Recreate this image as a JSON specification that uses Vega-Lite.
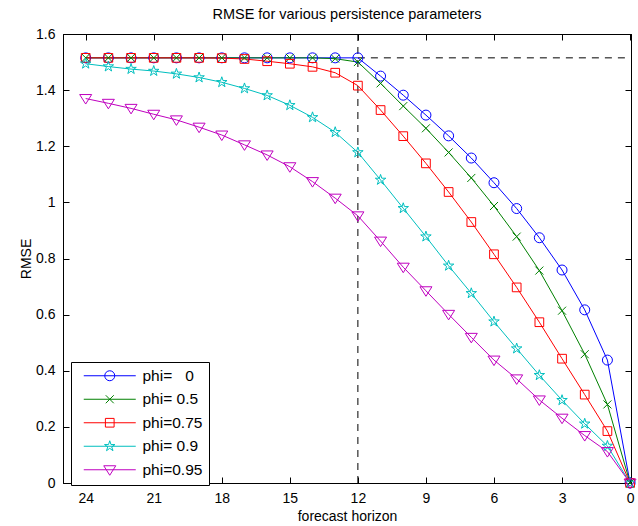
{
 "$schema": "https://vega.github.io/schema/vega-lite/v6.json",
 "width": 568, "height": 449,
 "autosize": {"type": "none"},
 "padding": {"left": 63, "top": 34, "right": 7, "bottom": 43},
 "background": "white",
 "title": {"text": "RMSE for various persistence parameters", "font": "Liberation Sans", "fontSize": 14.5, "fontWeight": "normal", "color": "black", "anchor": "middle", "offset": 5},
 "config": {
  "view": {"stroke": "black", "strokeWidth": 1},
  "axis": {"domainColor": "black", "domainWidth": 1, "tickColor": "black", "tickWidth": 1, "tickSize": -6, "labelFont": "Liberation Sans", "labelFontSize": 14, "labelColor": "black", "titleFont": "Liberation Sans", "titleFontSize": 14, "titleFontWeight": "normal", "titleColor": "black", "grid": false, "labelPadding": 14, "labelFlush": false, "labelOverlap": false},
  "legend": {"title": null, "orient": "none", "legendX": 8, "legendY": 328, "padding": 6, "strokeColor": "black", "fillColor": "white",
             "labelFont": "Liberation Sans", "labelFontSize": 15.5, "labelColor": "black", "symbolSize": 100, "symbolStrokeWidth": 1,
             "symbolOffset": 25, "labelOffset": 25, "rowPadding": 6.5}
 },
 "data": {"values": [
  {"h":24,"series":"phi=\u00a0\u00a0\u00a00","rmse":1.515},{"h":23,"series":"phi=\u00a0\u00a0\u00a00","rmse":1.515},{"h":22,"series":"phi=\u00a0\u00a0\u00a00","rmse":1.515},{"h":21,"series":"phi=\u00a0\u00a0\u00a00","rmse":1.515},{"h":20,"series":"phi=\u00a0\u00a0\u00a00","rmse":1.515},{"h":19,"series":"phi=\u00a0\u00a0\u00a00","rmse":1.515},{"h":18,"series":"phi=\u00a0\u00a0\u00a00","rmse":1.515},{"h":17,"series":"phi=\u00a0\u00a0\u00a00","rmse":1.515},{"h":16,"series":"phi=\u00a0\u00a0\u00a00","rmse":1.515},{"h":15,"series":"phi=\u00a0\u00a0\u00a00","rmse":1.515},{"h":14,"series":"phi=\u00a0\u00a0\u00a00","rmse":1.515},{"h":13,"series":"phi=\u00a0\u00a0\u00a00","rmse":1.515},{"h":12,"series":"phi=\u00a0\u00a0\u00a00","rmse":1.515},{"h":11,"series":"phi=\u00a0\u00a0\u00a00","rmse":1.450},{"h":10,"series":"phi=\u00a0\u00a0\u00a00","rmse":1.382},{"h":9,"series":"phi=\u00a0\u00a0\u00a00","rmse":1.311},{"h":8,"series":"phi=\u00a0\u00a0\u00a00","rmse":1.237},{"h":7,"series":"phi=\u00a0\u00a0\u00a00","rmse":1.158},{"h":6,"series":"phi=\u00a0\u00a0\u00a00","rmse":1.070},{"h":5,"series":"phi=\u00a0\u00a0\u00a00","rmse":0.978},{"h":4,"series":"phi=\u00a0\u00a0\u00a00","rmse":0.874},{"h":3,"series":"phi=\u00a0\u00a0\u00a00","rmse":0.759},{"h":2,"series":"phi=\u00a0\u00a0\u00a00","rmse":0.617},{"h":1,"series":"phi=\u00a0\u00a0\u00a00","rmse":0.438},{"h":0,"series":"phi=\u00a0\u00a0\u00a00","rmse":0},
  {"h":24,"series":"phi=\u00a00.5","rmse":1.515},{"h":23,"series":"phi=\u00a00.5","rmse":1.515},{"h":22,"series":"phi=\u00a00.5","rmse":1.515},{"h":21,"series":"phi=\u00a00.5","rmse":1.515},{"h":20,"series":"phi=\u00a00.5","rmse":1.515},{"h":19,"series":"phi=\u00a00.5","rmse":1.515},{"h":18,"series":"phi=\u00a00.5","rmse":1.515},{"h":17,"series":"phi=\u00a00.5","rmse":1.515},{"h":16,"series":"phi=\u00a00.5","rmse":1.515},{"h":15,"series":"phi=\u00a00.5","rmse":1.515},{"h":14,"series":"phi=\u00a00.5","rmse":1.515},{"h":13,"series":"phi=\u00a00.5","rmse":1.512},{"h":12,"series":"phi=\u00a00.5","rmse":1.500},{"h":11,"series":"phi=\u00a00.5","rmse":1.424},{"h":10,"series":"phi=\u00a00.5","rmse":1.343},{"h":9,"series":"phi=\u00a00.5","rmse":1.264},{"h":8,"series":"phi=\u00a00.5","rmse":1.178},{"h":7,"series":"phi=\u00a00.5","rmse":1.087},{"h":6,"series":"phi=\u00a00.5","rmse":0.987},{"h":5,"series":"phi=\u00a00.5","rmse":0.878},{"h":4,"series":"phi=\u00a00.5","rmse":0.757},{"h":3,"series":"phi=\u00a00.5","rmse":0.614},{"h":2,"series":"phi=\u00a00.5","rmse":0.459},{"h":1,"series":"phi=\u00a00.5","rmse":0.280},{"h":0,"series":"phi=\u00a00.5","rmse":0},
  {"h":24,"series":"phi=0.75","rmse":1.515},{"h":23,"series":"phi=0.75","rmse":1.515},{"h":22,"series":"phi=0.75","rmse":1.515},{"h":21,"series":"phi=0.75","rmse":1.515},{"h":20,"series":"phi=0.75","rmse":1.515},{"h":19,"series":"phi=0.75","rmse":1.515},{"h":18,"series":"phi=0.75","rmse":1.514},{"h":17,"series":"phi=0.75","rmse":1.511},{"h":16,"series":"phi=0.75","rmse":1.503},{"h":15,"series":"phi=0.75","rmse":1.494},{"h":14,"series":"phi=0.75","rmse":1.483},{"h":13,"series":"phi=0.75","rmse":1.462},{"h":12,"series":"phi=0.75","rmse":1.416},{"h":11,"series":"phi=0.75","rmse":1.329},{"h":10,"series":"phi=0.75","rmse":1.236},{"h":9,"series":"phi=0.75","rmse":1.139},{"h":8,"series":"phi=0.75","rmse":1.037},{"h":7,"series":"phi=0.75","rmse":0.930},{"h":6,"series":"phi=0.75","rmse":0.815},{"h":5,"series":"phi=0.75","rmse":0.697},{"h":4,"series":"phi=0.75","rmse":0.573},{"h":3,"series":"phi=0.75","rmse":0.443},{"h":2,"series":"phi=0.75","rmse":0.315},{"h":1,"series":"phi=0.75","rmse":0.185},{"h":0,"series":"phi=0.75","rmse":0},
  {"h":24,"series":"phi=\u00a00.9","rmse":1.494},{"h":23,"series":"phi=\u00a00.9","rmse":1.484},{"h":22,"series":"phi=\u00a00.9","rmse":1.475},{"h":21,"series":"phi=\u00a00.9","rmse":1.468},{"h":20,"series":"phi=\u00a00.9","rmse":1.458},{"h":19,"series":"phi=\u00a00.9","rmse":1.445},{"h":18,"series":"phi=\u00a00.9","rmse":1.428},{"h":17,"series":"phi=\u00a00.9","rmse":1.406},{"h":16,"series":"phi=\u00a00.9","rmse":1.381},{"h":15,"series":"phi=\u00a00.9","rmse":1.346},{"h":14,"series":"phi=\u00a00.9","rmse":1.303},{"h":13,"series":"phi=\u00a00.9","rmse":1.250},{"h":12,"series":"phi=\u00a00.9","rmse":1.178},{"h":11,"series":"phi=\u00a00.9","rmse":1.080},{"h":10,"series":"phi=\u00a00.9","rmse":0.979},{"h":9,"series":"phi=\u00a00.9","rmse":0.878},{"h":8,"series":"phi=\u00a00.9","rmse":0.774},{"h":7,"series":"phi=\u00a00.9","rmse":0.676},{"h":6,"series":"phi=\u00a00.9","rmse":0.575},{"h":5,"series":"phi=\u00a00.9","rmse":0.479},{"h":4,"series":"phi=\u00a00.9","rmse":0.384},{"h":3,"series":"phi=\u00a00.9","rmse":0.295},{"h":2,"series":"phi=\u00a00.9","rmse":0.211},{"h":1,"series":"phi=\u00a00.9","rmse":0.132},{"h":0,"series":"phi=\u00a00.9","rmse":0},
  {"h":24,"series":"phi=0.95","rmse":1.370},{"h":23,"series":"phi=0.95","rmse":1.353},{"h":22,"series":"phi=0.95","rmse":1.335},{"h":21,"series":"phi=0.95","rmse":1.314},{"h":20,"series":"phi=0.95","rmse":1.294},{"h":19,"series":"phi=0.95","rmse":1.268},{"h":18,"series":"phi=0.95","rmse":1.240},{"h":17,"series":"phi=0.95","rmse":1.205},{"h":16,"series":"phi=0.95","rmse":1.169},{"h":15,"series":"phi=0.95","rmse":1.127},{"h":14,"series":"phi=0.95","rmse":1.074},{"h":13,"series":"phi=0.95","rmse":1.015},{"h":12,"series":"phi=0.95","rmse":0.952},{"h":11,"series":"phi=0.95","rmse":0.862},{"h":10,"series":"phi=0.95","rmse":0.769},{"h":9,"series":"phi=0.95","rmse":0.685},{"h":8,"series":"phi=0.95","rmse":0.601},{"h":7,"series":"phi=0.95","rmse":0.519},{"h":6,"series":"phi=0.95","rmse":0.438},{"h":5,"series":"phi=0.95","rmse":0.371},{"h":4,"series":"phi=0.95","rmse":0.296},{"h":3,"series":"phi=0.95","rmse":0.231},{"h":2,"series":"phi=0.95","rmse":0.169},{"h":1,"series":"phi=0.95","rmse":0.112},{"h":0,"series":"phi=0.95","rmse":0}
 ]},
 "layer": [
  {
   "data": {"values": [{"x": 12}]},
   "mark": {"type": "rule", "color": "black", "strokeDash": [7, 6], "strokeWidth": 1},
   "encoding": {
    "x": {"field": "x", "type": "quantitative", "scale": {"domain": [-0.04, 25], "reverse": true, "nice": false, "zero": false},
          "axis": {"orient": "top", "values": [24, 21, 18, 15, 12, 9, 6, 3, 0], "labels": false, "title": null}}
   }
  },
  {
   "data": {"values": [{"x": 12, "x2": 0, "y": 1.515}]},
   "mark": {"type": "rule", "color": "black", "strokeDash": [7, 6], "strokeWidth": 1},
   "encoding": {
    "x": {"field": "x", "type": "quantitative", "axis": null},
    "x2": {"field": "x2"},
    "y": {"field": "y", "type": "quantitative", "scale": {"domain": [0, 1.6], "nice": false, "zero": false},
          "axis": {"orient": "right", "values": [0, 0.2, 0.4, 0.6, 0.8, 1, 1.2, 1.4, 1.6], "labels": false, "title": null}}
   }
  },
  {
   "mark": {"type": "line", "strokeWidth": 1},
   "encoding": {
    "x": {"field": "h", "type": "quantitative", "axis": {"orient": "bottom", "values": [24, 21, 18, 15, 12, 9, 6, 3, 0], "format": "d", "title": "forecast horizon", "titlePadding": 4}},
    "y": {"field": "rmse", "type": "quantitative", "axis": {"orient": "left", "values": [0, 0.2, 0.4, 0.6, 0.8, 1, 1.2, 1.4, 1.6], "format": ".1~f", "title": "RMSE", "titlePadding": 2}},
    "color": {"field": "series", "type": "nominal",
              "scale": {"domain": ["phi=\u00a0\u00a0\u00a00", "phi=\u00a00.5", "phi=0.75", "phi=\u00a00.9", "phi=0.95"], "range": ["#0000ff", "#008000", "#ff0000", "#00bfbf", "#bf00bf"]},
              "legend": {"encode": {"symbols": {"update": {"shape": {"signal": "scale('shape', datum.value) + ' M-5.2,0L5.2,0'"}}}}}}
   }
  },
  {
   "mark": {"type": "point", "filled": false, "size": 100, "strokeWidth": 1, "opacity": 1},
   "encoding": {
    "x": {"field": "h", "type": "quantitative", "axis": null},
    "y": {"field": "rmse", "type": "quantitative", "axis": null},
    "color": {"field": "series", "type": "nominal",
              "legend": {"encode": {"symbols": {"update": {"shape": {"signal": "scale('shape', datum.value) + ' M-5.2,0L5.2,0'"}}}}}},
    "shape": {"field": "series", "type": "nominal",
              "scale": {"domain": ["phi=0.95", "phi=\u00a00.9", "phi=0.75", "phi=\u00a00.5", "phi=\u00a0\u00a0\u00a00"],
                        "range": ["M-1.2,-0.8L1.2,-0.8L0,1.1Z", "M0,-1.1L0.247,-0.34L1.046,-0.34L0.4,0.13L0.647,0.89L0,0.42L-0.647,0.89L-0.4,0.13L-1.046,-0.34L-0.247,-0.34Z", "M-0.87,-0.87L0.87,-0.87L0.87,0.87L-0.87,0.87Z", "M-0.8,-0.8L0.8,0.8M-0.8,0.8L0.8,-0.8", "M1,0A1,1 0 1 1 -1,0A1,1 0 1 1 1,0Z"]},
              "legend": null}
   }
  }
 ],
 "resolve": {"axis": {"x": "independent", "y": "independent"}}
}
